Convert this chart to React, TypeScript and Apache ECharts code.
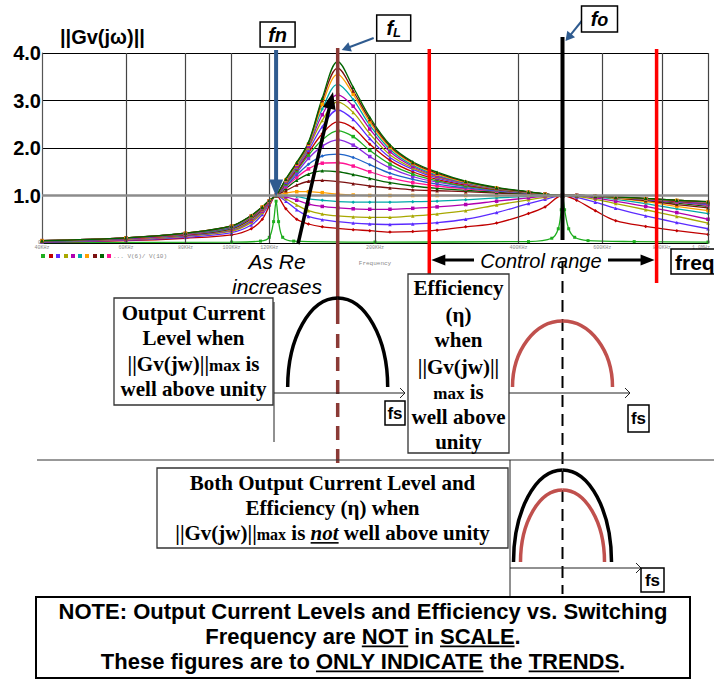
import React, { useEffect, useRef } from 'react';
import * as echarts from 'echarts';

// ---------- data (frequencies in kHz, magnitudes ||Gv(jw)||) ----------
const FREQ_KHZ = [40, 60, 80, 100, 110, 116, 120, 124, 130, 137, 145, 155, 167, 180, 195, 215, 240, 270, 310, 360, 420, 455, 495, 530, 580, 640, 740, 860, 1000];

// lowest Re: narrow spikes at fn and fo
const SPIKE_CURVE: [number, number][] = [
  [40, 0.01], [100, 0.02], [115, 0.04], [120, 0.12], [122.5, 0.45], [124, 0.88], [125.5, 0.45], [128, 0.12], [135, 0.04],
  [200, 0.02], [420, 0.03], [470, 0.1], [485, 0.3], [492, 0.7], [495, 0.99], [500, 0.7], [510, 0.3], [525, 0.12], [560, 0.05], [700, 0.03], [1000, 0.02],
];

const CURVE_02 = [0.02, 0.05, 0.10, 0.17, 0.30, 0.50, 0.78, 1.00, 0.72, 0.50, 0.40, 0.34, 0.31, 0.28, 0.26, 0.23, 0.24, 0.27, 0.34, 0.42, 0.62, 0.76, 1.00, 0.90, 0.68, 0.47, 0.35, 0.26, 0.18];
const CURVE_03 = [0.02, 0.06, 0.12, 0.22, 0.38, 0.60, 0.82, 1.00, 0.88, 0.70, 0.56, 0.49, 0.45, 0.42, 0.40, 0.39, 0.40, 0.43, 0.50, 0.64, 0.83, 0.92, 1.00, 0.96, 0.86, 0.73, 0.57, 0.43, 0.30];
const CURVE_04 = [0.03, 0.07, 0.14, 0.25, 0.43, 0.64, 0.84, 1.00, 0.93, 0.80, 0.68, 0.61, 0.57, 0.55, 0.54, 0.54, 0.57, 0.61, 0.68, 0.80, 0.91, 0.96, 1.00, 0.98, 0.92, 0.83, 0.70, 0.56, 0.42];
const CURVE_05 = [0.03, 0.07, 0.15, 0.27, 0.46, 0.67, 0.85, 1.00, 0.97, 0.90, 0.82, 0.77, 0.74, 0.72, 0.71, 0.71, 0.73, 0.76, 0.81, 0.88, 0.95, 0.98, 1.00, 0.99, 0.95, 0.88, 0.77, 0.64, 0.50];
const CURVE_06 = [0.03, 0.08, 0.16, 0.28, 0.48, 0.69, 0.86, 1.00, 1.00, 0.98, 0.93, 0.90, 0.87, 0.86, 0.86, 0.86, 0.87, 0.88, 0.91, 0.95, 0.98, 0.99, 1.00, 1.00, 0.97, 0.92, 0.83, 0.72, 0.62];
const CURVE_07 = [0.04, 0.08, 0.17, 0.29, 0.50, 0.70, 0.86, 1.00, 1.05, 1.08, 1.08, 1.06, 1.03, 1.01, 1.00, 1.00, 1.00, 1.00, 1.00, 1.00, 1.00, 1.00, 1.00, 1.00, 0.98, 0.94, 0.87, 0.77, 0.68];
const CURVE_08 = [0.04, 0.09, 0.17, 0.30, 0.51, 0.71, 0.87, 1.00, 1.10, 1.22, 1.30, 1.32, 1.29, 1.25, 1.20, 1.16, 1.12, 1.10, 1.08, 1.05, 1.03, 1.01, 1.00, 1.00, 0.98, 0.95, 0.89, 0.81, 0.74];
const CURVE_09 = [0.04, 0.09, 0.18, 0.31, 0.52, 0.72, 0.87, 1.00, 1.15, 1.32, 1.45, 1.52, 1.50, 1.44, 1.36, 1.27, 1.20, 1.15, 1.11, 1.07, 1.04, 1.02, 1.00, 1.00, 0.98, 0.96, 0.91, 0.84, 0.77];
const CURVE_10 = [0.04, 0.09, 0.18, 0.32, 0.53, 0.72, 0.87, 1.00, 1.18, 1.38, 1.56, 1.68, 1.69, 1.62, 1.50, 1.37, 1.27, 1.20, 1.14, 1.09, 1.05, 1.02, 1.00, 1.00, 0.98, 0.96, 0.92, 0.86, 0.79];
const CURVE_11 = [0.04, 0.10, 0.19, 0.32, 0.54, 0.73, 0.88, 1.00, 1.20, 1.43, 1.66, 1.83, 1.87, 1.80, 1.65, 1.47, 1.34, 1.24, 1.16, 1.10, 1.05, 1.02, 1.00, 1.00, 0.99, 0.96, 0.92, 0.87, 0.81];
const CURVE_12 = [0.04, 0.10, 0.19, 0.33, 0.54, 0.73, 0.88, 1.00, 1.22, 1.48, 1.78, 2.04, 2.17, 2.06, 1.82, 1.58, 1.40, 1.28, 1.19, 1.11, 1.06, 1.03, 1.00, 1.00, 0.99, 0.96, 0.92, 0.87, 0.82];
const CURVE_13 = [0.04, 0.10, 0.19, 0.33, 0.55, 0.74, 0.88, 1.00, 1.24, 1.52, 1.85, 2.17, 2.36, 2.24, 1.95, 1.66, 1.45, 1.31, 1.20, 1.12, 1.06, 1.03, 1.00, 1.00, 0.99, 0.96, 0.93, 0.88, 0.83];
const CURVE_14 = [0.05, 0.10, 0.20, 0.34, 0.55, 0.74, 0.88, 1.00, 1.26, 1.55, 1.90, 2.30, 2.55, 2.42, 2.08, 1.74, 1.50, 1.34, 1.22, 1.13, 1.06, 1.03, 1.00, 1.00, 0.99, 0.96, 0.93, 0.88, 0.84];
const CURVE_15 = [0.05, 0.10, 0.20, 0.34, 0.56, 0.75, 0.89, 1.00, 1.28, 1.58, 1.95, 2.45, 2.80, 2.60, 2.20, 1.80, 1.55, 1.37, 1.24, 1.14, 1.07, 1.03, 1.00, 1.00, 0.99, 0.96, 0.93, 0.89, 0.84];
const CURVE_16 = [0.05, 0.11, 0.20, 0.35, 0.56, 0.75, 0.89, 1.00, 1.30, 1.60, 2.00, 2.58, 2.97, 2.75, 2.30, 1.86, 1.58, 1.39, 1.25, 1.14, 1.07, 1.03, 1.00, 1.00, 0.99, 0.96, 0.93, 0.89, 0.85];
const CURVE_17 = [0.05, 0.11, 0.20, 0.35, 0.57, 0.75, 0.89, 1.00, 1.31, 1.62, 2.03, 2.70, 3.12, 2.88, 2.40, 1.92, 1.61, 1.41, 1.26, 1.15, 1.07, 1.03, 1.00, 1.00, 0.99, 0.96, 0.93, 0.89, 0.85];
const CURVE_18 = [0.05, 0.11, 0.21, 0.35, 0.57, 0.76, 0.89, 1.00, 1.32, 1.64, 2.06, 2.82, 3.34, 3.02, 2.48, 1.97, 1.64, 1.43, 1.27, 1.15, 1.07, 1.03, 1.00, 1.00, 0.99, 0.96, 0.93, 0.90, 0.86];
const CURVE_19 = [0.05, 0.11, 0.21, 0.36, 0.57, 0.76, 0.89, 1.00, 1.33, 1.66, 2.08, 2.92, 3.55, 3.13, 2.55, 2.01, 1.67, 1.45, 1.28, 1.16, 1.07, 1.03, 1.00, 1.00, 0.99, 0.96, 0.93, 0.90, 0.86];
const CURVE_20 = [0.05, 0.11, 0.21, 0.36, 0.58, 0.76, 0.90, 1.00, 1.34, 1.68, 2.10, 3.00, 3.68, 3.20, 2.60, 2.04, 1.69, 1.47, 1.29, 1.16, 1.07, 1.03, 1.00, 1.00, 0.99, 0.97, 0.94, 0.90, 0.87];
const CURVE_21 = [0.05, 0.11, 0.21, 0.36, 0.58, 0.76, 0.90, 1.00, 1.35, 1.70, 2.12, 3.05, 3.82, 3.28, 2.65, 2.07, 1.71, 1.49, 1.30, 1.17, 1.08, 1.03, 1.00, 1.00, 0.99, 0.97, 0.94, 0.90, 0.87];

const CURVES = [CURVE_02, CURVE_03, CURVE_04, CURVE_05, CURVE_06, CURVE_07, CURVE_08, CURVE_09, CURVE_10, CURVE_11, CURVE_12, CURVE_13, CURVE_14, CURVE_15, CURVE_16, CURVE_17, CURVE_18, CURVE_19, CURVE_20, CURVE_21];

const CURVE_COLORS = ['#1fae1f', '#c00000', '#5b2bff', '#a8a800', '#b000b0', '#00a8a8', '#ffa000', '#7b1010', '#006400', '#ff1493', '#1e64c8', '#8a2be2'];
const CURVE_SYMBOLS = ['rect', 'diamond', 'triangle', 'triangle', 'rect', 'diamond', 'rect', 'triangle', 'triangle', 'rect', 'diamond', 'rect'];

const GRID_KHZ = [60, 80, 100, 120, 200, 400, 600, 800, 1000];
const TICK_KHZ = [40, 60, 80, 100, 120, 200, 400, 600, 800, 1000];
const TICK_LABELS = ['40KHz', '60KHz', '80KHz', '100KHz', '120KHz', '200KHz', '400KHz', '600KHz', '800KHz', '1.0MHz'];

const FN_KHZ = 124;
const FL_KHZ = 167;
const FO_KHZ = 495;
const CONTROL_RANGE_KHZ = [260, 780];

// ---------- helpers ----------
const SANS = 'Liberation Sans, Arial, sans-serif';
const SERIF = 'Liberation Serif, Times New Roman, serif';
const MONO = 'Liberation Mono, DejaVu Sans Mono, monospace';
const Z = 100;

type Seg = { t: string; s: number; b?: boolean; i?: boolean; f: string; u?: boolean; dy?: number };

let mctx: CanvasRenderingContext2D | null = null;
function measure(seg: Seg, txt?: string): number {
  if (!mctx) mctx = document.createElement('canvas').getContext('2d');
  mctx!.font = `${seg.i ? 'italic ' : ''}${seg.b ? 'bold ' : ''}${seg.s}px ${seg.f}`;
  return mctx!.measureText(txt ?? seg.t).width;
}

function textLine(segs: Seg[], cx: number, cy: number, color = '#000', align: 'center' | 'left' = 'center'): any[] {
  const ws = segs.map((s) => measure(s));
  const total = ws.reduce((a, b) => a + b, 0);
  const maxS = Math.max(...segs.map((s) => s.s));
  let x = align === 'center' ? cx - total / 2 : cx;
  const out: any[] = [];
  segs.forEach((sg, k) => {
    const lead = sg.t.length - sg.t.trimStart().length;
    const leadW = lead ? measure(sg, sg.t.slice(0, lead)) : 0;
    const trimmed = sg.t.trim();
    const trimmedW = measure(sg, trimmed);
    const dy = (sg.dy ?? 0) + 0.35 * (maxS - sg.s);
    if (trimmed.length) {
      out.push({
        type: 'text', z: Z + 2, x: x + leadW, y: cy + dy,
        style: {
          text: trimmed, fontSize: sg.s, fontWeight: sg.b ? 'bold' : 'normal', fontStyle: sg.i ? 'italic' : 'normal',
          fontFamily: sg.f, fill: color, align: 'left', textAlign: 'left', verticalAlign: 'middle', textVerticalAlign: 'middle',
        },
      });
    }
    if (sg.u) {
      const uy = cy + 0.47 * maxS;
      out.push({ type: 'line', z: Z + 2, shape: { x1: x + leadW, y1: uy, x2: x + leadW + trimmedW, y2: uy }, style: { stroke: color, lineWidth: Math.max(1.3, maxS / 13) } });
    }
    x += ws[k];
  });
  return out;
}

function line(x1: number, y1: number, x2: number, y2: number, stroke: string, lineWidth: number, lineDash?: number[]): any {
  return { type: 'line', z: Z, shape: { x1, y1, x2, y2 }, style: { stroke, lineWidth, lineDash } };
}

function arrow(x1: number, y1: number, x2: number, y2: number, color: string, width: number, len: number, half: number): any[] {
  const dx = x2 - x1, dy = y2 - y1, L = Math.hypot(dx, dy);
  const ux = dx / L, uy = dy / L;
  const bx = x2 - ux * len, by = y2 - uy * len;
  return [
    line(x1, y1, bx + ux * 1, by + uy * 1, color, width),
    { type: 'polygon', z: Z + 1, shape: { points: [[x2, y2], [bx - uy * half, by + ux * half], [bx + uy * half, by - ux * half]] }, style: { fill: color } },
  ];
}

function box(x: number, y: number, w: number, h: number, lw = 1.5, stroke = '#000'): any {
  return { type: 'rect', z: Z + 1, shape: { x, y, width: w, height: h }, style: { fill: '#fff', stroke, lineWidth: lw } };
}

function arch(cx: number, top: number, halfW: number, foot: number, color: string, width: number): any[] {
  const k = 0.5523, h = foot - top;
  const st = { stroke: color, lineWidth: width, fill: 'none' };
  return [
    { type: 'bezierCurve', z: Z, shape: { x1: cx - halfW, y1: foot, cpx1: cx - halfW, cpy1: foot - k * h, cpx2: cx - k * halfW, cpy2: top, x2: cx, y2: top }, style: st },
    { type: 'bezierCurve', z: Z, shape: { x1: cx, y1: top, cpx1: cx + k * halfW, cpy1: top, cpx2: cx + halfW, cpy2: foot - k * h, x2: cx + halfW, y2: foot }, style: st },
  ];
}

function chevron(x: number, y: number): any {
  return { type: 'polyline', z: Z, shape: { points: [[x - 5, y - 5], [x, y], [x - 5, y + 5]] }, style: { stroke: '#222', lineWidth: 1, fill: 'none' } };
}

export default function App() {
  const ref = useRef<HTMLDivElement>(null);

  useEffect(() => {
    const chart = echarts.init(ref.current!, null, { renderer: 'svg' });

    const series: any[] = [];
    series.push({
      name: 'V(6)/V(10) #1', type: 'line', data: SPIKE_CURVE, smooth: 0.3, symbol: 'rect', symbolSize: 3, showSymbol: true,
      lineStyle: { color: CURVE_COLORS[0], width: 1.3 }, itemStyle: { color: CURVE_COLORS[0] },
      markLine: {
        silent: true, symbol: ['none', 'none'], label: { show: false }, animation: false,
        data: [
          ...GRID_KHZ.map((f) => ({ xAxis: f, lineStyle: { color: '#444', width: 1.2, type: 'solid' } })),
          { yAxis: 1, lineStyle: { color: '#8c8c8c', width: 2.5, type: 'solid' } },
        ],
      },
    });
    CURVES.forEach((vals, k) => {
      const idx = k + 1;
      const color = CURVE_COLORS[idx % CURVE_COLORS.length];
      series.push({
        name: `V(6)/V(10) #${idx + 1}`, type: 'line', data: FREQ_KHZ.map((f, i) => [f, vals[i]]),
        smooth: 0.35, symbol: CURVE_SYMBOLS[idx % CURVE_SYMBOLS.length], symbolSize: 3.5, showSymbol: true,
        lineStyle: { color, width: 1.3 }, itemStyle: { color },
      });
    });

    chart.setOption({
      animation: false,
      textStyle: { fontFamily: SANS },
      grid: { left: 42, top: 53, width: 666, height: 190, containLabel: false },
      xAxis: {
        type: 'log', logBase: 10, min: 40, max: 1000,
        axisLine: { show: true, lineStyle: { color: '#000', width: 1 } },
        axisTick: { show: false }, axisLabel: { show: false }, splitLine: { show: false }, minorSplitLine: { show: false },
      },
      yAxis: {
        type: 'value', min: 0, max: 4, interval: 1,
        axisLine: { show: true, lineStyle: { color: '#555', width: 1.2 } },
        axisTick: { show: false },
        splitLine: { show: true, lineStyle: { color: '#000', width: 1.2 } },
        axisLabel: {
          margin: 1,
          formatter: (v: number) => (v === 0 ? '{s|0}' : `{b|${v.toFixed(1)}}`),
          rich: {
            b: { fontSize: 20, fontWeight: 'bold', fontFamily: SANS, color: '#000' },
            s: { fontSize: 5, color: '#777', fontFamily: MONO },
          },
        },
      },
      series,
    });

    const px = (f: number) => chart.convertToPixel({ xAxisIndex: 0 }, f) as number;
    const py = (v: number) => chart.convertToPixel({ yAxisIndex: 0 }, v) as number;

    const xFn = px(FN_KHZ), xFl = px(FL_KHZ), xFo = px(FO_KHZ);
    const xR1 = px(CONTROL_RANGE_KHZ[0]), xR2 = px(CONTROL_RANGE_KHZ[1]);
    const y1 = py(1), y0 = py(0);

    const els: any[] = [];

    // tiny PSpice axis labels and legend
    TICK_KHZ.forEach((f, i) => {
      const last = i === TICK_KHZ.length - 1;
      els.push({
        type: 'text', z: Z - 50, x: px(f) + (last ? 2 : 0), y: y0 + 5,
        style: { text: TICK_LABELS[i], fontSize: 5, fontFamily: MONO, fill: '#888', align: last ? 'right' : 'center', textAlign: last ? 'right' : 'center', verticalAlign: 'middle', textVerticalAlign: 'middle' },
      });
    });
    els.push({ type: 'text', z: Z - 50, x: px(200), y: y0 + 20, style: { text: 'Frequency', fontSize: 6, fontFamily: MONO, fill: '#888', align: 'center', textAlign: 'center', verticalAlign: 'middle', textVerticalAlign: 'middle' } });
    [43, 51, 58, 66, 73, 80, 87, 95, 102, 109].forEach((lx, i) => {
      els.push({ type: 'rect', z: Z - 50, shape: { x: lx - 2, y: y0 + 11, width: 4, height: 4 }, style: { fill: CURVE_COLORS[i % CURVE_COLORS.length] } });
    });
    els.push({ type: 'text', z: Z - 50, x: 113, y: y0 + 13, style: { text: '... V(6)/ V(10)', fontSize: 6, fontFamily: MONO, fill: '#888', align: 'left', textAlign: 'left', verticalAlign: 'middle', textVerticalAlign: 'middle' } });

    // title
    els.push(...textLine([{ t: '||Gv(jω)||', s: 20, b: true, f: SANS }], 60, 37, '#000', 'left'));

    // fn
    els.push(line(xFn, 50, xFn, y1 - 14, '#2f5b8f', 4));
    els.push({ type: 'polygon', z: Z + 1, shape: { points: [[xFn - 7, y1 - 16], [xFn + 7, y1 - 16], [xFn, y1 + 1]] }, style: { fill: '#2f5b8f' } });
    els.push(box(xFn - 16, 22, 35, 25));
    els.push(...textLine([{ t: 'fn', s: 20, b: true, i: true, f: SANS }], xFn + 1.5, 34.5));

    // fL
    els.push(line(xFl, 48, xFl, 324, '#8b3a36', 3.5));
    els.push(line(xFl, 334, xFl, 472, '#8b3a36', 3.5, [14, 9]));
    els.push(box(xFl + 39, 15, 34, 26));
    els.push(...textLine([{ t: 'f', s: 20, b: true, i: true, f: SANS }, { t: 'L', s: 13, b: true, i: true, f: SANS, dy: 2 }], xFl + 56, 28));
    els.push(...arrow(xFl + 36, 38, xFl + 4, 50, '#2f5b8f', 2, 9, 5));

    // fo
    els.push(line(xFo, 37, xFo, 240, '#000', 4));
    els.push(line(xFo, 262, xFo, 594, '#000', 2, [12, 7]));
    els.push(box(xFo + 19, 6, 36, 26));
    els.push(...textLine([{ t: 'f', s: 20, b: true, i: true, f: SANS }, { t: 'o', s: 18, b: true, i: true, f: SANS }], xFo + 37, 19));
    els.push(...arrow(xFo + 20, 20, xFo + 3, 41, '#2f5b8f', 2, 9, 5));

    // control range
    els.push(line(xR1, 49, xR1, 274, '#ff0000', 3.5));
    els.push(line(xR2, 49, xR2, 283, '#ff0000', 3.5));
    els.push(...arrow(474, 260, xR1 + 2, 260, '#000', 3, 14, 5.5));
    els.push(...arrow(608, 260, xR2 - 2, 260, '#000', 3, 14, 5.5));
    els.push(...textLine([{ t: 'Control range', s: 20, i: true, f: SANS }], (xR1 + xR2) / 2 - 2, 261));

    // freq
    els.push(box(671, 249, 60, 25));
    els.push(...textLine([{ t: 'freq', s: 21, b: true, f: SANS }], 675, 262, '#000', 'left'));

    // As Re increases
    els.push(...textLine([{ t: 'As Re', s: 21, i: true, f: SANS }], 277, 261));
    els.push(...textLine([{ t: 'increases', s: 21, i: true, f: SANS }], 277, 286));
    els.push(...arrow(298, 244, 333, 92, '#000', 3.5, 17, 6.5));

    // output current diagram
    els.push(line(274, 302, 274, 442, '#222', 1));
    els.push(line(274, 393, 405, 393, '#222', 1));
    els.push(chevron(405, 393));
    els.push(...arch(xFl, 298, 50, 387, '#000', 3.5));
    els.push(box(114, 298, 159, 107, 1.3, '#333'));
    els.push(...textLine([{ t: 'Output Current', s: 21, b: true, f: SERIF }], 193.5, 313));
    els.push(...textLine([{ t: 'Level when', s: 21, b: true, f: SERIF }], 193.5, 338));
    els.push(...textLine([{ t: '||Gv(jw)||', s: 21, b: true, f: SERIF }, { t: 'max', s: 17, b: true, f: SERIF }, { t: ' is', s: 21, b: true, f: SERIF }], 193.5, 364));
    els.push(...textLine([{ t: 'well above unity', s: 21, b: true, f: SERIF }], 193.5, 389));
    els.push(box(385, 401, 20, 24));
    els.push(...textLine([{ t: 'fs', s: 17, b: true, f: SANS }], 395, 413));

    // efficiency diagram
    els.push(line(509, 393, 630, 393, '#222', 1));
    els.push(chevron(630, 393));
    els.push(...arch(xFo, 321, 50, 387, '#c0504d', 3.5));
    els.push(box(408, 274, 101, 179, 1.3, '#333'));
    const effLines: Seg[][] = [
      [{ t: 'Efficiency', s: 21, b: true, f: SERIF }],
      [{ t: '(η)', s: 21, b: true, f: SERIF }],
      [{ t: 'when', s: 21, b: true, f: SERIF }],
      [{ t: '||Gv(jw)||', s: 21, b: true, f: SERIF }],
      [{ t: 'max', s: 17, b: true, f: SERIF }, { t: ' is', s: 21, b: true, f: SERIF }],
      [{ t: 'well above', s: 21, b: true, f: SERIF }],
      [{ t: 'unity', s: 21, b: true, f: SERIF }],
    ];
    [288, 315, 340, 367, 392, 417, 442].forEach((yy, i) => els.push(...textLine(effLines[i], 458.5, yy)));
    els.push(box(628, 405, 21, 27));
    els.push(...textLine([{ t: 'fs', s: 17, b: true, f: SANS }], 638.5, 418.5));

    // separator
    els.push(line(37, 460, 714, 460, '#333', 1));

    // both diagram
    els.push(line(510, 460, 510, 596, '#222', 1));
    els.push(line(510, 568, 641, 568, '#222', 1));
    els.push(chevron(641, 568));
    els.push(...arch(xFo, 470, 49, 562, '#000', 3.5));
    els.push(...arch(xFo, 490, 42, 562, '#c0504d', 3.5));
    els.push(box(157, 468, 351, 80, 1.3, '#333'));
    els.push(...textLine([{ t: 'Both Output Current Level and', s: 21, b: true, f: SERIF }], 332.5, 483));
    els.push(...textLine([{ t: 'Efficiency (η) when', s: 21, b: true, f: SERIF }], 332.5, 508));
    els.push(...textLine([
      { t: '||Gv(jw)||', s: 21, b: true, f: SERIF }, { t: 'max', s: 16, b: true, f: SERIF }, { t: ' is ', s: 21, b: true, f: SERIF },
      { t: 'not', s: 21, b: true, i: true, u: true, f: SERIF }, { t: ' well above unity', s: 21, b: true, f: SERIF },
    ], 332.5, 533));
    els.push(box(641, 568, 23, 24));
    els.push(...textLine([{ t: 'fs', s: 17, b: true, f: SANS }], 652.5, 580));

    // note
    els.push(box(36, 597, 654, 81, 2));
    els.push(...textLine([{ t: 'NOTE: Output Current Levels and Efficiency vs. Switching', s: 22, b: true, f: SANS }], 363, 611));
    els.push(...textLine([
      { t: 'Frequency are ', s: 22, b: true, f: SANS }, { t: 'NOT', s: 22, b: true, u: true, f: SANS }, { t: ' in ', s: 22, b: true, f: SANS },
      { t: 'SCALE', s: 22, b: true, u: true, f: SANS }, { t: '.', s: 22, b: true, f: SANS },
    ], 363, 636));
    els.push(...textLine([
      { t: 'These figures are to ', s: 22, b: true, f: SANS }, { t: 'ONLY INDICATE', s: 22, b: true, u: true, f: SANS }, { t: ' the ', s: 22, b: true, f: SANS },
      { t: 'TRENDS', s: 22, b: true, u: true, f: SANS }, { t: '.', s: 22, b: true, f: SANS },
    ], 363, 661));

    chart.setOption({ graphic: { elements: els } });

    return () => chart.dispose();
  }, []);

  return <div ref={ref} style={{ position: 'absolute', left: 0, top: 0, width: 714, height: 681, background: '#fff' }} />;
}
